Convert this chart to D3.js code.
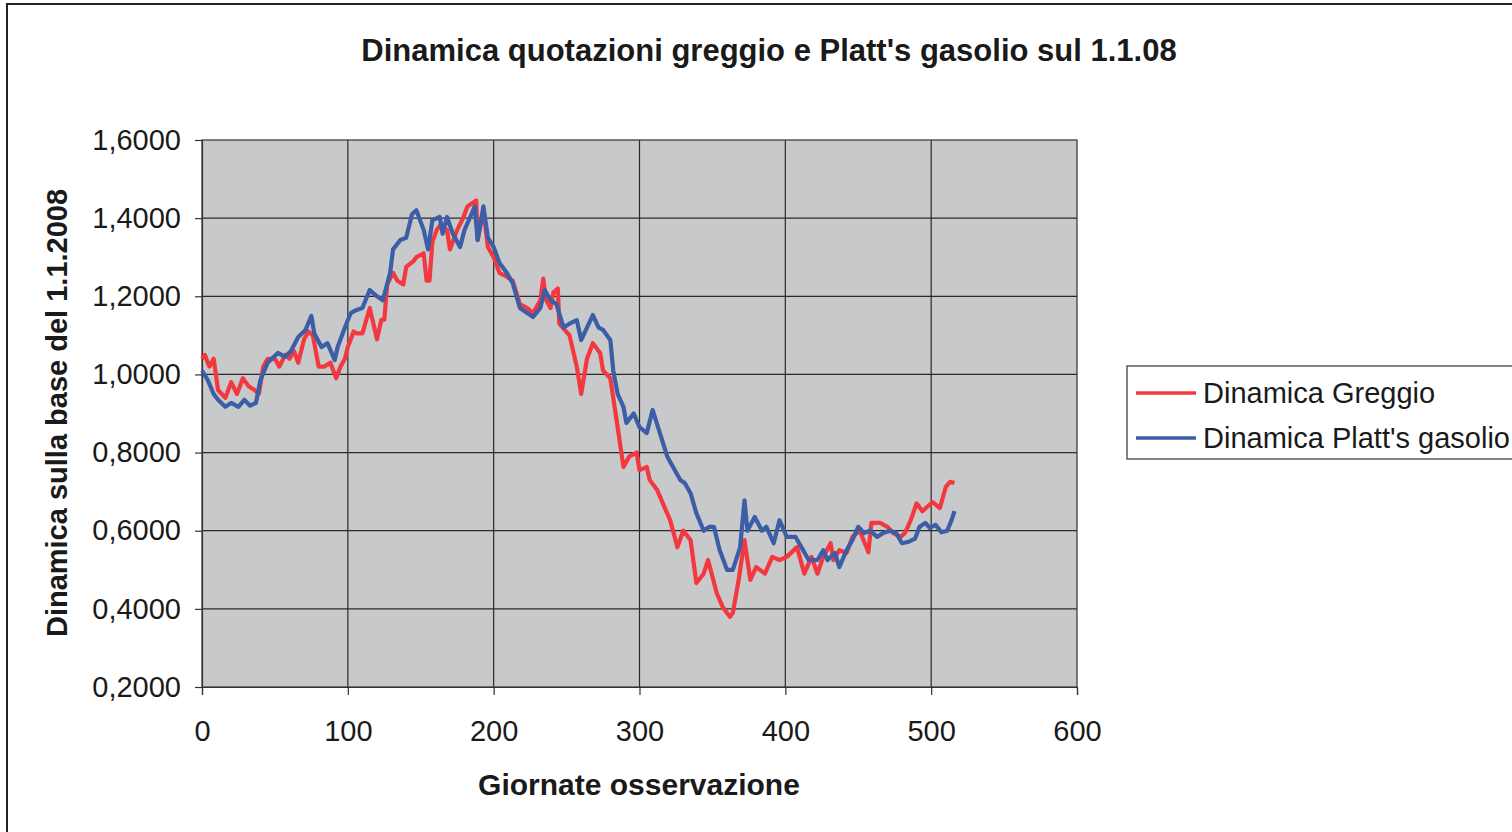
<!DOCTYPE html>
<html>
<head>
<meta charset="utf-8">
<script src="https://cdn.jsdelivr.net/npm/d3@7"></script>
<style>
  body { margin: 0; background: #fff; }
  svg text { font-family: "Liberation Sans", Arial, sans-serif; fill: #1a1a1a; }
</style>
</head>
<body>
<div id="chart"></div>
<script>
// values (giorno, indice base 1.1.2008 = 1)
const greggioDays = [0,2,5,8,11,16,20,24,28,32,36,39,42,45,50,53,57,60,63,66,70,73,76,80,84,88,92,95,98,100,104,106,110,115,120,123,125,127,131,134,138,140,145,147,152,154,156,158,161,163,168,170,175,179,182,186,188,189,193,196,200,204,209,213,218,223,227,232,234,236,239,241,244,245,252,257,260,264,268,273,275,280,285,289,293,298,300,305,307,312,316,321,326,330,335,339,344,347,353,357,362,364,368,372,376,380,386,391,396,401,408,413,418,422,426,431,433,437,442,446,451,457,459,465,470,474,479,482,486,490,494,497,501,506,510,513,516,518];
const greggioVals = [1.04,1.05,1.02,1.04,0.96,0.94,0.98,0.95,0.99,0.97,0.96,0.95,1.02,1.04,1.04,1.02,1.05,1.04,1.06,1.03,1.09,1.11,1.10,1.02,1.02,1.03,0.99,1.02,1.04,1.07,1.11,1.105,1.105,1.17,1.09,1.14,1.14,1.23,1.26,1.24,1.23,1.275,1.29,1.30,1.31,1.24,1.24,1.34,1.37,1.38,1.37,1.32,1.37,1.40,1.43,1.44,1.445,1.344,1.42,1.326,1.30,1.26,1.25,1.24,1.18,1.17,1.157,1.19,1.245,1.19,1.17,1.21,1.22,1.13,1.10,1.02,0.95,1.04,1.08,1.055,1.01,0.99,0.865,0.763,0.79,0.80,0.755,0.763,0.73,0.705,0.67,0.627,0.558,0.60,0.576,0.466,0.49,0.525,0.44,0.405,0.38,0.39,0.474,0.576,0.474,0.507,0.49,0.533,0.525,0.533,0.558,0.49,0.533,0.49,0.533,0.568,0.525,0.55,0.543,0.584,0.60,0.545,0.62,0.62,0.61,0.594,0.584,0.594,0.627,0.67,0.65,0.66,0.673,0.658,0.712,0.725,0.722];

const gasolioDays = [0,4,8,11,16,20,25,29,33,37,40,45,52,57,61,66,71,75,77,82,86,91,93,98,102,106,110,115,120,124,129,131,136,140,144,147,152,155,158,163,165,168,172,177,180,184,187,189,193,196,200,204,209,213,218,223,227,232,235,239,243,248,252,257,260,264,268,272,275,280,282,285,289,291,296,300,305,309,314,319,323,328,331,335,339,344,348,351,355,360,364,369,372,374,379,384,387,392,396,401,407,411,416,422,426,429,434,437,442,446,450,454,458,463,467,472,476,480,484,489,492,496,499,503,507,511,514,516];
const gasolioVals = [1.01,0.985,0.95,0.935,0.917,0.927,0.917,0.935,0.92,0.927,0.985,1.03,1.055,1.045,1.06,1.096,1.114,1.15,1.105,1.07,1.08,1.037,1.07,1.12,1.157,1.165,1.17,1.216,1.20,1.19,1.26,1.32,1.344,1.35,1.41,1.42,1.37,1.32,1.395,1.403,1.36,1.403,1.36,1.326,1.37,1.403,1.43,1.344,1.43,1.35,1.326,1.285,1.26,1.234,1.17,1.157,1.147,1.17,1.216,1.19,1.18,1.12,1.13,1.139,1.088,1.12,1.152,1.12,1.114,1.088,1.01,0.95,0.917,0.876,0.90,0.865,0.85,0.909,0.85,0.79,0.763,0.73,0.722,0.696,0.645,0.60,0.61,0.61,0.55,0.50,0.50,0.558,0.678,0.60,0.635,0.60,0.61,0.568,0.627,0.584,0.584,0.558,0.525,0.525,0.55,0.525,0.543,0.507,0.55,0.576,0.61,0.594,0.60,0.584,0.594,0.60,0.594,0.568,0.571,0.58,0.61,0.62,0.607,0.615,0.596,0.60,0.627,0.65];

const seriesNames = ["Dinamica Greggio", "Dinamica Platt's gasolio"];
const seriesColors = ["#f4383f", "#3c5ea6"];
const xTicks = [0, 100, 200, 300, 400, 500, 600];
const yTicks = [0.2, 0.4, 0.6, 0.8, 1.0, 1.2, 1.4, 1.6];

const width = 1512, height = 832;
const plot = {left: 202, right: 1077, top: 140, bottom: 687};

const svg = d3.select("#chart").append("svg")
  .attr("width", width)
  .attr("height", height);

// outer frame of the chart object
svg.append("rect")
  .attr("x", 7).attr("y", 4)
  .attr("width", width + 10).attr("height", height + 10)
  .attr("fill", "#fff").attr("stroke", "#222").attr("stroke-width", 2);

const x = d3.scaleLinear().domain([0, 600]).range([plot.left, plot.right]);
const y = d3.scaleLinear().domain([0.2, 1.6]).range([plot.bottom, plot.top]);

svg.append("rect")
  .attr("x", plot.left).attr("y", plot.top)
  .attr("width", plot.right - plot.left).attr("height", plot.bottom - plot.top)
  .attr("fill", "#c8c9cb");

// gridlines
svg.append("g").selectAll("line")
  .data(yTicks.slice(1, -1))
  .enter().append("line")
  .attr("x1", plot.left).attr("x2", plot.right)
  .attr("y1", d => y(d)).attr("y2", d => y(d))
  .attr("stroke", "#2a2a2a").attr("stroke-width", 1.2);

svg.append("g").selectAll("line")
  .data(xTicks.slice(1, -1))
  .enter().append("line")
  .attr("y1", plot.top).attr("y2", plot.bottom)
  .attr("x1", d => x(d)).attr("x2", d => x(d))
  .attr("stroke", "#2a2a2a").attr("stroke-width", 1.2);

svg.append("rect")
  .attr("x", plot.left).attr("y", plot.top)
  .attr("width", plot.right - plot.left).attr("height", plot.bottom - plot.top)
  .attr("fill", "none").attr("stroke", "#333").attr("stroke-width", 1.2);

// axes
const fmt = d => d.toFixed(4).replace(".", ",");

const yAxis = svg.append("g")
  .attr("transform", "translate(" + plot.left + ",0)")
  .call(d3.axisLeft(y).tickValues(yTicks).tickFormat(fmt).tickSize(7).tickPadding(14));
const xAxis = svg.append("g")
  .attr("transform", "translate(0," + plot.bottom + ")")
  .call(d3.axisBottom(x).tickValues(xTicks).tickFormat(d3.format("d")).tickSize(8).tickPadding(25));

[yAxis, xAxis].forEach(a => {
  a.select(".domain").attr("stroke", "#333").attr("stroke-width", 1.2);
  a.selectAll(".tick line").attr("stroke", "#333").attr("stroke-width", 1.2);
  a.selectAll(".tick text").attr("font-size", 29).attr("fill", "#1a1a1a")
    .style("font-family", "'Liberation Sans', Arial, sans-serif");
});

// lines
const series = [
  greggioDays.map((d, i) => [d, greggioVals[i]]),
  gasolioDays.map((d, i) => [d, gasolioVals[i]])
];
const line = d3.line().x(d => x(d[0])).y(d => y(d[1]));

svg.append("g").selectAll("path")
  .data([series[0], series[1]])
  .enter().append("path")
  .attr("d", line)
  .attr("fill", "none")
  .attr("stroke", (d, i) => seriesColors[i])
  .attr("stroke-width", 4.2)
  .attr("stroke-linejoin", "round");

// titles
svg.append("text")
  .attr("x", 769).attr("y", 61)
  .attr("text-anchor", "middle")
  .attr("font-size", 31).attr("font-weight", "bold")
  .text("Dinamica quotazioni greggio e Platt's gasolio sul 1.1.08");

svg.append("text")
  .attr("x", 639).attr("y", 795)
  .attr("text-anchor", "middle")
  .attr("font-size", 30).attr("font-weight", "bold")
  .text("Giornate osservazione");

svg.append("text")
  .attr("transform", "translate(67,413) rotate(-90)")
  .attr("text-anchor", "middle")
  .attr("font-size", 29).attr("font-weight", "bold")
  .text("Dinamica sulla base del 1.1.2008");

// legend
const legend = svg.append("g");
legend.append("rect")
  .attr("x", 1127).attr("y", 366)
  .attr("width", 400).attr("height", 93)
  .attr("fill", "#fff").attr("stroke", "#333").attr("stroke-width", 1.2);

const items = legend.selectAll("g.item")
  .data(seriesNames)
  .enter().append("g")
  .attr("transform", (d, i) => "translate(0," + (393 + i * 45) + ")");
items.append("line")
  .attr("x1", 1136).attr("x2", 1196)
  .attr("stroke", (d, i) => seriesColors[i]).attr("stroke-width", 3.5);
items.append("text")
  .attr("x", 1203).attr("y", 10)
  .attr("font-size", 29)
  .text(d => d);
</script>
</body>
</html>
